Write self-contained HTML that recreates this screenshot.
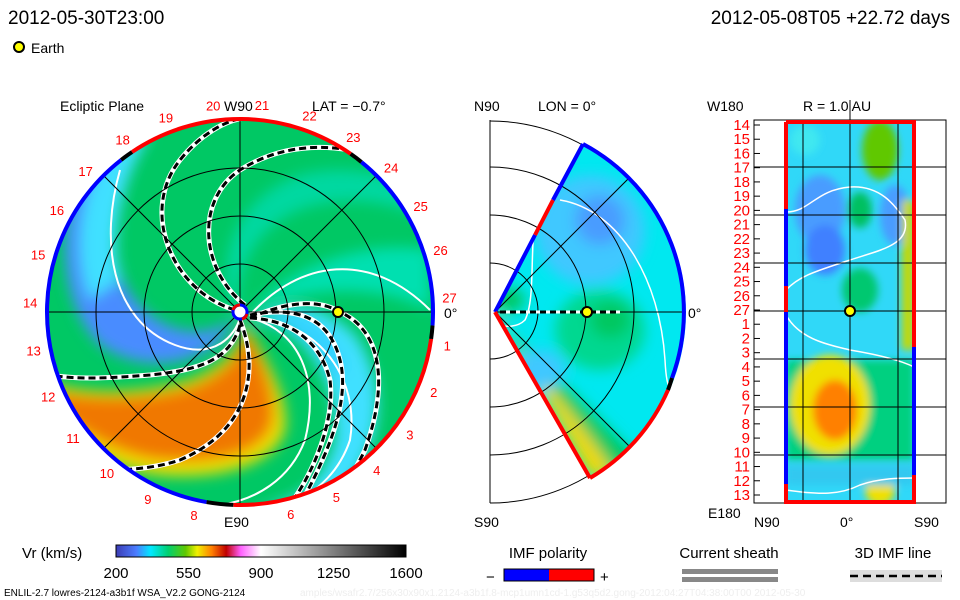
<!DOCTYPE html>
<html><head><meta charset="utf-8"><style>
body{margin:0;background:#fff;}
svg{display:block;font-family:"Liberation Sans",sans-serif;}
</style></head><body>
<svg id="s" width="960" height="600" viewBox="0 0 960 600">
<defs>
<clipPath id="cL"><circle cx="240" cy="312" r="193"/></clipPath>
<clipPath id="cM"><path d="M495 312 L583 144 A190 190 0 0 1 590 478 Z"/></clipPath>
<clipPath id="cR"><rect x="786" y="122" width="128" height="380"/></clipPath>
<filter id="bl" x="-50%" y="-50%" width="200%" height="200%"><feGaussianBlur stdDeviation="7"/></filter>
<filter id="bl2" x="-50%" y="-50%" width="200%" height="200%"><feGaussianBlur stdDeviation="4"/></filter>
<linearGradient id="cb" x1="0" x2="1">
<stop offset="0" stop-color="#3c3cb4"/><stop offset="0.07" stop-color="#4b7cff"/><stop offset="0.12" stop-color="#00e8ff"/><stop offset="0.18" stop-color="#00d070"/><stop offset="0.24" stop-color="#60c800"/><stop offset="0.28" stop-color="#f0f000"/><stop offset="0.33" stop-color="#ff8000"/><stop offset="0.38" stop-color="#c00000"/><stop offset="0.43" stop-color="#ff60ff"/><stop offset="0.5" stop-color="#ffffff"/><stop offset="1" stop-color="#000000"/>
</linearGradient>
</defs>

<text x="8" y="24" font-size="19">2012-05-30T23:00</text>
<text x="950" y="24" font-size="19" text-anchor="end">2012-05-08T05 +22.72 days</text>
<circle cx="19" cy="47" r="5" fill="#ffff00" stroke="#000" stroke-width="2"/>
<text x="31" y="53" font-size="14">Earth</text>

<!-- Ecliptic plane -->
<g>
<text x="60" y="111" font-size="14">Ecliptic Plane</text>
<text x="224" y="111" font-size="14">W90</text>
<text x="312" y="111" font-size="14">LAT = −0.7°</text>
<text x="224" y="527" font-size="14">E90</text>
<text x="444" y="318" font-size="14">0°</text>
<g clip-path="url(#cL)">
<circle cx="240" cy="312" r="193" fill="#00c864"/>
<g filter="url(#bl)">
<path d="M235 318 C200 345,150 330,125 285 C105 240,115 180,150 135 L90 150 C55 210,55 300,100 345 C150 380,220 360,235 318Z" fill="#4a8cff"/>
<path d="M150 135 C120 180,110 240,120 280 L90 300 C70 250,80 180,120 140Z" fill="#40e0ff"/>
<path d="M250 320 C300 320,340 380,335 440 C325 480,300 505,245 510 L320 510 C380 470,395 390,355 335 C320 300,280 300,250 320Z" fill="#40e0ff"/>
<path d="M250 320 C290 300,340 330,345 370 L330 380 C320 340,290 325,250 320Z" fill="#30d0ff"/>
<path d="M245 320 C255 345,290 390,285 430 C275 465,220 480,160 475 C110 470,70 440,45 420 L40 380 C80 395,140 395,190 380 C230 365,245 340,245 320Z" fill="#f0e000"/>
<path d="M245 325 C255 350,280 390,272 425 C260 455,215 465,160 460 C115 455,80 430,50 410 L48 390 C90 400,150 400,195 385 C235 368,245 345,245 325Z" fill="#f07800"/>
<path d="M240 330 C210 270,230 200,300 175 C340 165,380 170,420 190 L430 220 C390 200,340 195,300 210 C250 230,230 280,240 330Z" fill="#00d8a0"/>
<path d="M250 310 C300 290,370 280,430 310 L430 250 C370 240,300 260,250 310Z" fill="#00e0b0"/>
</g>
</g>
<g fill="none" stroke="#fff" stroke-width="2" clip-path="url(#cL)">
<path d="M120 170 C100 240,110 320,175 345 C215 360,235 335,240 318"/>
<path d="M250 315 C300 260,370 250,430 310"/>
<path d="M250 318 C300 330,320 380,305 440 C290 480,255 500,220 505"/>
<path d="M250 318 C320 320,360 380,350 440 C340 470,320 490,290 505"/>
</g>
<g fill="none" clip-path="url(#cL)">
<g stroke="#fff" stroke-width="5">
<path id="d1" d="M235 310 C170 290,140 210,180 160 C200 135,225 120,245 118"/>
<path id="d2" d="M245 305 C200 270,195 200,240 170 C280 145,320 145,350 150"/>
<path id="d3" d="M250 318 C290 300,320 300,340 312 C380 330,390 380,365 450 C350 480,340 495,330 505"/>
<path id="d4" d="M250 315 C300 305,330 320,340 360 C350 400,330 450,300 505"/>
<path id="d5" d="M250 318 C290 320,320 340,330 380 C335 420,315 470,290 505"/>
<path id="d6" d="M240 320 C260 370,250 430,180 460 C150 470,120 470,100 470"/>
<path id="d7" d="M240 325 C230 360,200 370,150 375 C110 378,80 380,50 375"/>
</g>
<g stroke="#000" stroke-width="3" stroke-dasharray="7 4">
<use href="#d1"/><use href="#d2"/><use href="#d3"/><use href="#d4"/><use href="#d5"/><use href="#d6"/><use href="#d7"/>
</g>
</g>
<g id="lgrid" fill="none" stroke="#000" stroke-width="1">
<circle cx="240" cy="312" r="48"/><circle cx="240" cy="312" r="96"/><circle cx="240" cy="312" r="144"/>
<line x1="47" y1="312" x2="433" y2="312"/><line x1="240" y1="119" x2="240" y2="505"/>
<line x1="104" y1="176" x2="376" y2="448"/><line x1="104" y1="448" x2="376" y2="176"/>
</g>
<g id="lring" fill="none" stroke-width="4"></g>
<circle cx="240" cy="312" r="7" fill="#fff" stroke="#00f" stroke-width="3"/>
<path d="M233 310 A7 7 0 0 1 240 305 M247 314 A7 7 0 0 1 242 319" fill="none" stroke="#e00" stroke-width="3"/>
<circle cx="338" cy="312" r="5" fill="#ffff00" stroke="#000" stroke-width="2"/>
<g id="llabels" font-size="13" fill="#f00" text-anchor="middle"></g>
</g>

<!-- Meridional -->
<g>
<text x="474" y="111" font-size="14">N90</text>
<text x="538" y="111" font-size="14">LON = 0°</text>
<text x="474" y="527" font-size="14">S90</text>
<text x="688" y="318" font-size="14">0°</text>
<g fill="none" stroke="#000" stroke-width="1">
<line x1="490" y1="120" x2="490" y2="503"/>
<path d="M490 263 A48 48 0 0 1 490 359"/><path d="M490 215 A96 96 0 0 1 490 407"/><path d="M490 167 A144 144 0 0 1 490 455"/><path d="M490 121 A191 191 0 0 1 490 503"/>
</g>
<g clip-path="url(#cM)">
<rect x="490" y="130" width="200" height="360" fill="#00e8f0"/>
<g filter="url(#bl)">
<ellipse cx="590" cy="230" rx="55" ry="55" fill="#40c8ff"/>
<ellipse cx="600" cy="220" rx="25" ry="25" fill="#4a9cff"/>
<ellipse cx="600" cy="330" rx="45" ry="40" fill="#00d890"/>
<ellipse cx="610" cy="320" rx="20" ry="18" fill="#00c860"/>
<path d="M495 312 L590 478 L640 460 C600 420,550 370,495 320Z" fill="#00c860"/>
<path d="M495 312 L590 478 L615 474 C580 420,535 370,495 320Z" fill="#f0d800"/>
<ellipse cx="510" cy="300" rx="15" ry="12" fill="#00c860"/>
<ellipse cx="540" cy="370" rx="25" ry="20" fill="#40c8ff"/>
</g>
<path d="M535 215 C530 260,535 300,525 320 C515 330,500 325,495 325" fill="none" stroke="#fff" stroke-width="1.5"/>
<path d="M560 200 C620 210,660 280,665 360 C666 380,668 385,670 390" fill="none" stroke="#fff" stroke-width="1.5"/>
</g>
<g fill="none" stroke="#000" stroke-width="1" clip-path="url(#cM)">
<path d="M490 263 A48 48 0 0 1 490 359"/><path d="M490 215 A96 96 0 0 1 490 407"/><path d="M490 167 A144 144 0 0 1 490 455"/>
<line x1="495" y1="312" x2="690" y2="312"/><line x1="495" y1="312" x2="640" y2="167"/><line x1="495" y1="312" x2="640" y2="457"/>
</g>
<g fill="none" stroke-width="4">
<path d="M495 312 L535 235" stroke="#00f"/><path d="M535 235 L553 200" stroke="#f00"/><path d="M553 200 L583 144" stroke="#00f"/>
<path d="M583 144 A190 190 0 0 1 672 378" stroke="#00f"/><path d="M672 378 A190 190 0 0 1 668 390" stroke="#000"/><path d="M668 390 A190 190 0 0 1 590 478" stroke="#f00"/>
<path d="M495 312 L590 478" stroke="#f00"/>
</g>
<line x1="500" y1="312" x2="620" y2="312" stroke="#fff" stroke-width="3"/>
<line x1="500" y1="312" x2="620" y2="312" stroke="#000" stroke-width="3" stroke-dasharray="6 4"/>
<circle cx="587" cy="312" r="5" fill="#ffff00" stroke="#000" stroke-width="2"/>
</g>

<!-- R = 1 AU -->
<g>
<text x="707" y="111" font-size="14">W180</text>
<text x="803" y="111" font-size="14">R = 1.0 AU</text>
<text x="708" y="518" font-size="14">E180</text>
<text x="754" y="527" font-size="14">N90</text>
<text x="840" y="527" font-size="14">0°</text>
<text x="914" y="527" font-size="14">S90</text>
<g clip-path="url(#cR)">
<rect x="786" y="122" width="128" height="380" fill="#30d8f8"/>
<g filter="url(#bl2)">
<ellipse cx="820" cy="210" rx="25" ry="35" fill="#4a9cff"/>
<ellipse cx="895" cy="215" rx="15" ry="30" fill="#4a9cff"/>
<ellipse cx="825" cy="250" rx="20" ry="25" fill="#4080ff"/>
<ellipse cx="880" cy="150" rx="18" ry="30" fill="#60c800"/>
<ellipse cx="860" cy="210" rx="12" ry="18" fill="#00c060"/>
<ellipse cx="860" cy="290" rx="18" ry="22" fill="#00c870"/>
<rect x="902" y="200" width="12" height="150" fill="#c8d800"/>
<rect x="786" y="360" width="128" height="100" fill="#00d080"/>
<ellipse cx="830" cy="405" rx="40" ry="50" fill="#f0e000"/>
<ellipse cx="835" cy="410" rx="22" ry="30" fill="#ff8000"/>
<ellipse cx="880" cy="490" rx="15" ry="15" fill="#f0e000"/>
<rect x="786" y="465" width="128" height="20" fill="#30c8f0"/>
<ellipse cx="805" cy="140" rx="15" ry="15" fill="#40e8f0"/>
</g>
<path d="M786 212 C810 212,815 190,850 187 C880 185,895 205,905 220 C910 245,880 250,850 260 C820 270,800 275,786 290" fill="none" stroke="#fff" stroke-width="1.5"/>
<path d="M786 315 C800 340,830 345,850 350 C880 355,900 360,914 367" fill="none" stroke="#fff" stroke-width="1.5"/>
<path d="M786 490 C820 495,840 495,860 485 C880 478,900 478,914 478" fill="none" stroke="#fff" stroke-width="1.5"/>
</g>
<g id="rgrid" stroke="#000" stroke-width="1" fill="none">
<rect x="754" y="120" width="192" height="383"/>
<line x1="803" y1="120" x2="803" y2="503"/><line x1="850" y1="100" x2="850" y2="503"/><line x1="898" y1="120" x2="898" y2="503"/>
</g>
<g fill="none" stroke-width="4">
<path d="M786 122 H914 V347" stroke="#f00"/><path d="M914 347 V475" stroke="#00f"/><path d="M914 475 V502 H786 V484" stroke="#f00"/>
<path d="M786 484 V312" stroke="#00f"/><path d="M786 312 V286" stroke="#f00"/><path d="M786 286 V209" stroke="#00f"/><path d="M786 209 V122" stroke="#f00"/>
</g>
<circle cx="850" cy="311" r="5" fill="#ffff00" stroke="#000" stroke-width="2"/>
<g id="rlabels" font-size="15" fill="#f00" text-anchor="end"></g>
</g>

<!-- colorbar -->
<text x="22" y="558" font-size="15">Vr (km/s)</text>
<rect x="116" y="545" width="290" height="12" fill="url(#cb)" stroke="#000"/>
<g id="cbticks" font-size="15" text-anchor="middle"></g>
<text x="548" y="558" font-size="15" text-anchor="middle">IMF polarity</text>
<text x="486" y="582" font-size="15">−</text>
<rect x="504" y="569" width="45" height="12" fill="#00f"/>
<rect x="549" y="569" width="45" height="12" fill="#f00"/>
<rect x="504" y="569" width="90" height="12" fill="none" stroke="#000"/>
<text x="600" y="582" font-size="15">+</text>
<text x="729" y="558" font-size="15" text-anchor="middle">Current sheath</text>
<rect x="682" y="569" width="96" height="5" fill="#888"/>
<rect x="682" y="577" width="96" height="5" fill="#888"/>
<text x="893" y="558" font-size="15" text-anchor="middle">3D IMF line</text>
<rect x="850" y="570" width="92" height="12" fill="#ddd"/>
<line x1="850" y1="576" x2="942" y2="576" stroke="#000" stroke-width="2.5" stroke-dasharray="8 5"/>
<text x="4" y="596" font-size="10">ENLIL-2.7 lowres-2124-a3b1f WSA_V2.2 GONG-2124</text>
<text x="300" y="596" font-size="10" fill="#eee">amples/wsafr2.7/256x30x90x1.2124-a3b1f.8-mcp1umn1cd-1.g53q5d2.gong-2012:04:27T04:38:00T00    2012-05-30</text>
</svg>
<script>
const colorbarTicks = [200, 550, 900, 1250, 1600];
const rotationLabels = [27,1,2,3,4,5,6,7,8,9,10,11,12,13,14,15,16,17,18,19,20,21,22,23,24,25,26];
const radialLabels = [14,15,16,17,18,19,20,21,22,23,24,25,26,27,1,2,3,4,5,6,7,8,9,10,11,12,13];
const ringSegments = [[-8,-92,'#f00'],[-92,-100,'#000'],[-100,-232,'#00f'],[-232,-236,'#000'],[124,55,'#f00'],[55,51,'#000'],[51,-4,'#00f'],[-4,-8,'#000']];
const NS='http://www.w3.org/2000/svg';
const cbx = v => 116 + (v-200)/(1600-200)*290;
const cbg = document.getElementById('cbticks');
colorbarTicks.forEach(v=>{
 const t=document.createElementNS(NS,'text');
 t.setAttribute('x',cbx(v)); t.setAttribute('y',578); t.textContent=v;
 
 
 cbg.appendChild(t);
});
const lg=document.getElementById('llabels');
rotationLabels.forEach((k,i)=>{
 if(k===7) return;
 const a=(4-i*360/27)*Math.PI/180;
 const t=document.createElementNS(NS,'text');
 t.setAttribute('x',(240+210*Math.cos(a)).toFixed(1));
 t.setAttribute('y',(317-208*Math.sin(a)).toFixed(1));
 t.textContent=k;
 
 
 lg.appendChild(t);
});
const rg=document.getElementById('lring');
ringSegments.forEach(s=>{
 const a1=s[0]*Math.PI/180,a2=s[1]*Math.PI/180,r=193;
 const p=document.createElementNS(NS,'path');
 const large=Math.abs(s[0]-s[1])>180?1:0;
 p.setAttribute('d',`M${240+r*Math.cos(a1)} ${312-r*Math.sin(a1)} A${r} ${r} 0 ${large} 1 ${240+r*Math.cos(a2)} ${312-r*Math.sin(a2)}`);
 p.setAttribute('stroke',s[2]);
 
 
 rg.appendChild(p);
});
const rl=document.getElementById('rlabels');
radialLabels.forEach((k,i)=>{
 const y=125+i*(495-125)/26;
 const t=document.createElementNS(NS,'text');
 t.setAttribute('x',750); t.setAttribute('y',y+5); t.textContent=k;
 
 
 rl.appendChild(t);
 const l=document.createElementNS(NS,'line');
 l.setAttribute('x1',754);l.setAttribute('x2',760);l.setAttribute('y1',y);l.setAttribute('y2',y);l.setAttribute('stroke','#000');
 rl.appendChild(l);
});
const rgr=document.getElementById('rgrid');
[167,215,263,311,359,407,455].forEach(y=>{
 const l=document.createElementNS(NS,'line');
 l.setAttribute('x1',754);l.setAttribute('x2',946);l.setAttribute('y1',y);l.setAttribute('y2',y);
 rgr.appendChild(l);
});
</script>
</body></html>
